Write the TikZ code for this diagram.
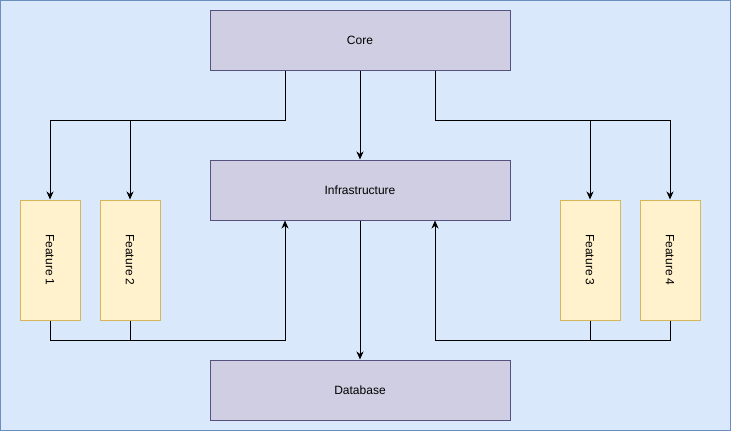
\documentclass[tikz,border=0pt]{standalone}
\usepackage{fontspec}
\setmainfont{Liberation Sans}
\usepackage{graphicx}
\usetikzlibrary{arrows.meta,positioning}
\definecolor{panelfill}{HTML}{DAE8FC}
\definecolor{panelline}{HTML}{6C8EBF}
\definecolor{layerfill}{HTML}{D0CEE2}
\definecolor{layerline}{HTML}{56517E}
\definecolor{featfill}{HTML}{FFF2CC}
\definecolor{featline}{HTML}{D6B656}

\begin{document}
\begin{tikzpicture}[
    x=1pt, y=-1pt,
    every node/.style={font=\fontsize{12}{14}\selectfont, inner sep=0pt},
    layer/.style={draw=layerline, fill=layerfill, line width=1pt, minimum width=300pt, minimum height=60pt},
    feature/.style={draw=featline, fill=featfill, line width=1pt, minimum width=60pt, minimum height=120pt},
    link/.style={line width=1pt, -{Stealth[length=8pt, width=7pt, inset=2.5pt]}},
    plain/.style={line width=1pt}
  ]
  % fond et cadre
  \useasboundingbox (0,0) rectangle (731,431);
  \draw[panelline, fill=panelfill, line width=1pt] (0.5,0.5) rectangle (730.5,430.5);

  % couches
  \node[layer] (core) at (360,40) {Core};
  \node[layer] (infra) at (360,190) {Infrastructure};
  \node[layer] (db) at (360,390) {Database};

  % modules
  \node[feature] (f1) at (50,260) {\rotatebox{-90}{Feature 1}};
  \node[feature] (f2) at (130,260) {\rotatebox{-90}{Feature 2}};
  \node[feature] (f3) at (590,260) {\rotatebox{-90}{Feature 3}};
  \node[feature] (f4) at (670,260) {\rotatebox{-90}{Feature 4}};

  % points de jonction
  \coordinate (splitL) at (285,120);
  \coordinate (splitR) at (435,120);
  \coordinate (joinL) at (285,340);
  \coordinate (joinR) at (435,340);

  % Core vers les modules
  \draw[link] ([xshift=-75pt]core.south) -- (splitL) -| (f1.north);
  \draw[link] (splitL -| f2.north) -- (f2.north);
  \draw[link] ([xshift=75pt]core.south) -- (splitR) -| (f4.north);
  \draw[link] (splitR -| f3.north) -- (f3.north);
  \draw[link] (core.south) -- (infra.north);

  % modules vers Infrastructure
  \draw[link] (f1.south) |- (joinL) -- ([xshift=-75pt]infra.south);
  \draw[plain] (f2.south) -- (f2.south |- joinL);
  \draw[link] (f4.south) |- (joinR) -- ([xshift=75pt]infra.south);
  \draw[plain] (f3.south) -- (f3.south |- joinR);

  % Infrastructure vers Database
  \draw[link] (infra.south) -- (db.north);
\end{tikzpicture}
\end{document}
